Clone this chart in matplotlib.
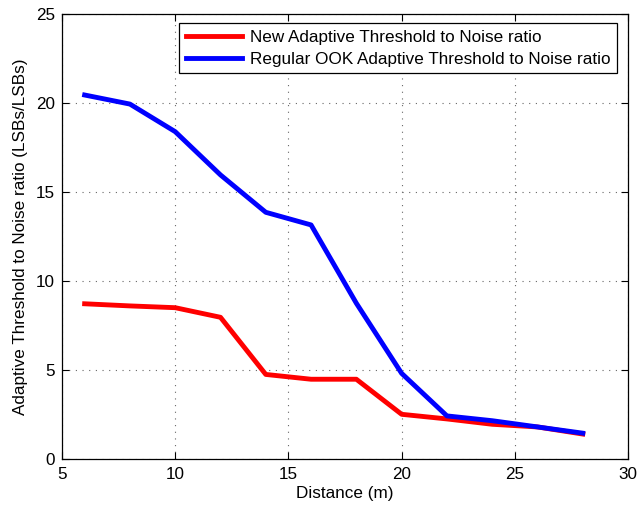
import matplotlib.pyplot as plt

plt.rcParams['font.family'] = ['Liberation Sans', 'DejaVu Sans']

# Data
distance = [6, 8, 10, 12, 14, 16, 18, 20, 22, 24, 26, 28]
new_ratio = [8.72, 8.6, 8.5, 7.96, 4.75, 4.48, 4.48, 2.51, 2.25, 1.95, 1.8, 1.4]
ook_ratio = [20.45, 19.94, 18.39, 15.96, 13.86, 13.15, 8.75, 4.81, 2.42, 2.15, 1.8, 1.45]

labels = ['New Adaptive Threshold to Noise ratio',
          'Regular OOK Adaptive Threshold to Noise ratio']

FS = 12.3


def main():
    fig = plt.figure(figsize=(6.37, 5.08), dpi=100)
    ax = fig.add_axes([0.0973, 0.0965, 0.8887, 0.8759])

    ax.plot(distance, new_ratio, color='#ff0000', lw=3.5, label=labels[0])
    ax.plot(distance, ook_ratio, color='#0000ff', lw=3.5, label=labels[1])

    ax.set_xlim(5, 30)
    ax.set_ylim(0, 25)
    ax.set_xticks(range(5, 31, 5))
    ax.set_yticks(range(0, 26, 5))
    ax.tick_params(direction='in', top=True, right=True, labelsize=FS,
                   length=5, width=0.8)
    ax.tick_params(axis='x', pad=6)
    ax.tick_params(axis='y', pad=5)
    ax.grid(True, linestyle=(0, (1, 5)), color='#666666', linewidth=0.8)
    for s in ax.spines.values():
        s.set_linewidth(0.9)

    ax.set_xlabel('Distance (m)', fontsize=FS, labelpad=3)
    ax.set_ylabel('Adaptive Threshold to Noise ratio (LSBs/LSBs)', fontsize=FS, labelpad=6)

    leg = ax.legend(loc='upper right', bbox_to_anchor=(0.9806, 0.98),
                    borderaxespad=0, fontsize=FS, fancybox=False,
                    edgecolor='black', framealpha=1, handlelength=3.3,
                    handletextpad=0.45, labelspacing=0.4, borderpad=0.4)
    leg.get_frame().set_linewidth(0.9)

    fig.savefig('out.png', dpi=100)


if __name__ == '__main__':
    main()
